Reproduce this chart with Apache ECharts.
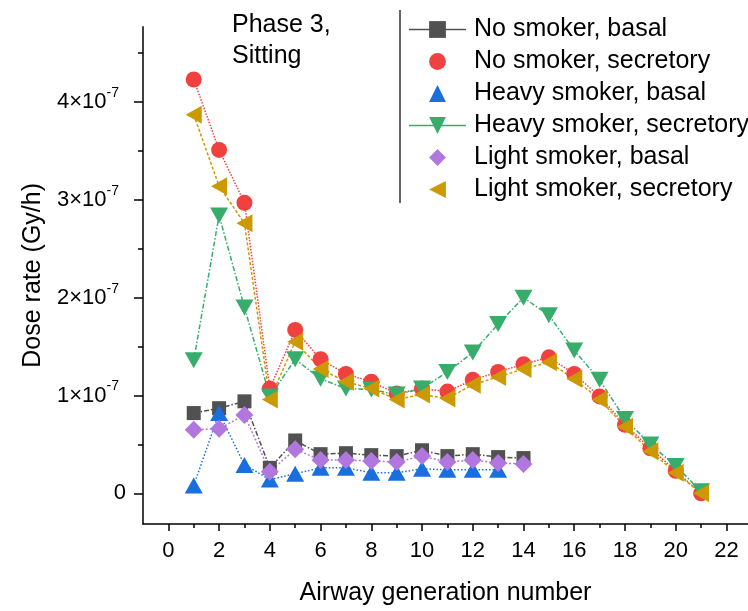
<!DOCTYPE html>
<html>
<head>
<meta charset="utf-8">
<script src="https://cdn.jsdelivr.net/npm/echarts@6/dist/echarts.min.js"></script>
<style>
  html, body { margin: 0; padding: 0; background: #fff; }
  #chart { width: 748px; height: 611px; }
</style>
</head>
<body>
<div id="chart"></div>
<script>
// Airway generation numbers
const generations = [1,2,3,4,5,6,7,8,9,10,11,12,13,14,15,16,17,18,19,20,21];

// Dose rate values, in units of 1e-7 Gy/h
const noSmokerBasal       = [0.82,0.87,0.94,0.26,0.54,0.40,0.41,0.39,0.38,0.44,0.38,0.40,0.37,0.36];
const noSmokerSecretory   = [4.23,3.51,2.97,1.07,1.67,1.37,1.22,1.14,1.02,1.07,1.04,1.16,1.24,1.32,1.39,1.22,0.99,0.70,0.46,0.23,0.00];
const heavySmokerBasal    = [0.08,0.82,0.29,0.14,0.20,0.26,0.26,0.21,0.21,0.25,0.24,0.24,0.24];
const heavySmokerSecretory= [1.36,2.84,1.90,0.99,1.37,1.17,1.07,1.06,1.01,1.07,1.24,1.44,1.73,2.00,1.82,1.46,1.16,0.76,0.50,0.28,0.02];
const lightSmokerBasal    = [0.65,0.66,0.80,0.22,0.45,0.34,0.34,0.33,0.32,0.38,0.32,0.34,0.31,0.30];
const lightSmokerSecretory= [3.87,3.14,2.76,0.96,1.55,1.27,1.14,1.07,0.96,1.01,0.97,1.11,1.19,1.27,1.34,1.17,0.96,0.68,0.43,0.21,0.00];

// Tick positions
const xMajorTicks = [0,2,4,6,8,10,12,14,16,18,20,22];
const xMinorTicks = [1,3,5,7,9,11,13,15,17,19,21];
const yMajorTicks = [0,1,2,3,4];
const yMinorTicks = [0.5,1.5,2.5,3.5,4.5];

const FONT = '"Liberation Sans", Arial, sans-serif';

function pairs(values) {
  return values.map((v, i) => [generations[i], v]);
}

const seriesDefs = [
  { name: 'No smoker, basal',        data: noSmokerBasal,        color: '#515151', symbol: 'rect',     size: 14,      rotate: 0,   dash: [5, 2, 1.5, 2], legendLine: true },
  { name: 'No smoker, secretory',    data: noSmokerSecretory,    color: '#F14040', symbol: 'circle',   size: 16,      rotate: 0,   dash: [1.5, 1.5],     legendLine: false },
  { name: 'Heavy smoker, basal',     data: heavySmokerBasal,     color: '#1A6FDF', symbol: 'triangle', size: [18, 16], rotate: 0,  dash: [1.5, 2],       legendLine: false },
  { name: 'Heavy smoker, secretory', data: heavySmokerSecretory, color: '#37AD6B', symbol: 'triangle', size: [18, 16], rotate: 180, dash: [5, 2, 1.5, 2], legendLine: true },
  { name: 'Light smoker, basal',     data: lightSmokerBasal,     color: '#B177DE', symbol: 'diamond',  size: [18, 18], rotate: 0,  dash: [2, 2],         legendLine: false },
  { name: 'Light smoker, secretory', data: lightSmokerSecretory, color: '#CC9900', symbol: 'triangle', size: [18, 16], rotate: 90, dash: [3, 2],         legendLine: false }
];

const series = seriesDefs.map(d => ({
  name: d.name,
  type: 'line',
  xAxisIndex: 0,
  yAxisIndex: 0,
  data: pairs(d.data),
  symbol: d.symbol,
  symbolSize: d.size,
  symbolRotate: d.rotate,
  showAllSymbol: true,
  itemStyle: { color: d.color, opacity: 1 },
  lineStyle: { color: d.color, width: 1.5, type: d.dash },
  emphasis: { disabled: true },
  z: 2
}));

const legendData = seriesDefs.map(d => ({
  name: d.name,
  lineStyle: d.legendLine ? { type: 'solid', width: 1.5, color: d.color } : { opacity: 0 }
}));

const chart = echarts.init(document.getElementById('chart'), null, { renderer: 'canvas' });

chart.setOption({
  animation: false,
  backgroundColor: '#ffffff',
  textStyle: { fontFamily: FONT },
  grid: { left: 143, top: 26.7, right: 0, bottom: 82.7, containLabel: false },
  xAxis: [
    {
      type: 'value',
      min: -1,
      max: 22.85,
      name: 'Airway generation number',
      nameLocation: 'middle',
      nameGap: 57,
      nameTextStyle: { fontSize: 25, color: '#000', fontFamily: FONT },
      axisLine: { show: true, onZero: false, lineStyle: { color: '#000', width: 1.5 } },
      axisTick: { show: true, inside: false, length: 7, customValues: xMajorTicks, lineStyle: { color: '#000', width: 1.5 } },
      axisLabel: { show: true, margin: 16, fontSize: 22, color: '#000', fontFamily: FONT, customValues: xMajorTicks },
      splitLine: { show: false }
    },
    {
      type: 'value',
      min: -1,
      max: 22.85,
      position: 'bottom',
      axisLine: { show: false, onZero: false },
      axisTick: { show: true, inside: false, length: 4, customValues: xMinorTicks, lineStyle: { color: '#000', width: 1.5 } },
      axisLabel: { show: false },
      splitLine: { show: false }
    }
  ],
  yAxis: [
    {
      type: 'value',
      min: -0.314,
      max: 4.77,
      name: 'Dose rate (Gy/h)',
      nameLocation: 'middle',
      nameGap: 94,
      nameRotate: 90,
      nameTextStyle: { fontSize: 25, color: '#000', fontFamily: FONT },
      axisLine: { show: true, onZero: false, lineStyle: { color: '#000', width: 1.5 } },
      axisTick: { show: true, inside: false, length: 9, customValues: yMajorTicks, lineStyle: { color: '#000', width: 1.5 } },
      axisLabel: {
        show: true,
        margin: 17,
        customValues: yMajorTicks,
        color: '#000',
        fontFamily: FONT,
        formatter: v => v === 0 ? '{b|0}' : '{b|' + v + '×10}{sup|-7}',
        rich: {
          b: { fontSize: 22, lineHeight: 32, color: '#000', fontFamily: FONT },
          sup: { fontSize: 14, lineHeight: 14, color: '#000', fontFamily: FONT, verticalAlign: 'top', padding: [0, 7, 0, 0] }
        }
      },
      splitLine: { show: false }
    },
    {
      type: 'value',
      min: -0.314,
      max: 4.77,
      position: 'left',
      axisLine: { show: false, onZero: false },
      axisTick: { show: true, inside: false, length: 5, customValues: yMinorTicks, lineStyle: { color: '#000', width: 1.5 } },
      axisLabel: { show: false },
      splitLine: { show: false }
    }
  ],
  legend: {
    orient: 'vertical',
    left: 403,
    top: 12,
    itemWidth: 57,
    itemHeight: 21,
    itemGap: 7,
    selectedMode: false,
    textStyle: { fontSize: 25, color: '#000', fontFamily: FONT, lineHeight: 25, padding: [0, 0, 0, 3] },
    data: legendData
  },
  graphic: [
    {
      type: 'line',
      shape: { x1: 400, y1: 10, x2: 400, y2: 203 },
      style: { stroke: '#333', lineWidth: 1.5 },
      silent: true
    },
    {
      type: 'text',
      left: 232,
      top: 10,
      style: { text: 'Phase 3,\nSitting', fontSize: 25, lineHeight: 31, fill: '#000', font: '25px ' + FONT },
      silent: true
    }
  ],
  series: series
});
</script>
</body>
</html>
